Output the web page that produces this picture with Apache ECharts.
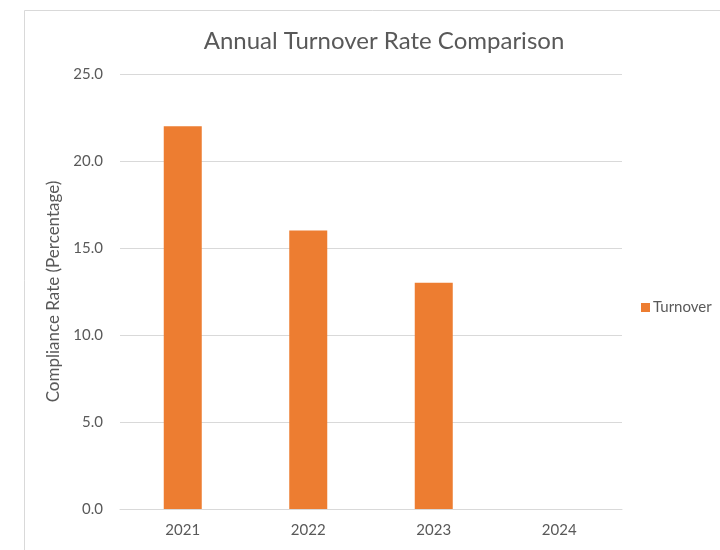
<!DOCTYPE html>
<html>
<head>
<meta charset="utf-8">
<style>
  html, body { margin: 0; padding: 0; background: #ffffff; }
  #chart { width: 720px; height: 550px; }
</style>
<script src="https://cdn.jsdelivr.net/npm/echarts@6/dist/echarts.min.js"></script>
</head>
<body>
<div id="chart"></div>
<script>
// Annual turnover figures by year
const years = ['2021', '2022', '2023', '2024'];
const turnover = [22, 16, 13, 0];
const seriesName = 'Turnover';

const textColor = '#595959';
const fontFamily = 'Lato, "Open Sans", sans-serif';

const chart = echarts.init(document.getElementById('chart'), null, { renderer: 'canvas' });

chart.setOption({
  backgroundColor: '#ffffff',
  animation: false,
  textStyle: { fontFamily: fontFamily, color: textColor },
  graphic: [{
    type: 'rect',
    left: 22, top: 8,
    shape: { width: 720, height: 560 },
    style: { fill: 'none', stroke: '#d9d9d9', lineWidth: 1 },
    silent: true
  }],
  title: {
    text: 'Annual Turnover Rate Comparison',
    left: 379, top: 24,
    textAlign: 'center',
    textStyle: { fontSize: 24, fontWeight: 'normal', color: textColor, fontFamily: fontFamily }
  },
  legend: {
    data: [seriesName],
    orient: 'vertical',
    left: 636, top: 295,
    itemWidth: 9, itemHeight: 9, itemGap: 4,
    icon: 'rect',
    textStyle: { fontSize: 15, color: textColor, fontFamily: fontFamily, padding: [0, 0, 0, -2] }
  },
  grid: { left: 120, right: 98, top: 74, bottom: 41 },
  xAxis: {
    type: 'category',
    data: years,
    axisLine: { show: true, lineStyle: { color: '#d9d9d9' } },
    axisTick: { show: false },
    axisLabel: { color: textColor, fontSize: 15, margin: 14, fontFamily: fontFamily }
  },
  yAxis: {
    type: 'value',
    min: 0, max: 25, interval: 5,
    name: 'Compliance Rate (Percentage)',
    nameLocation: 'middle',
    nameGap: 53,
    nameRotate: 90,
    nameTextStyle: { fontSize: 17, color: textColor, fontFamily: fontFamily },
    axisLine: { show: false },
    axisTick: { show: false },
    axisLabel: {
      color: textColor, fontSize: 15, margin: 17, fontFamily: fontFamily,
      formatter: v => v.toFixed(1)
    },
    splitLine: { lineStyle: { color: '#d9d9d9', width: 1 } }
  },
  series: [{
    name: seriesName,
    type: 'bar',
    data: turnover,
    barWidth: 38,
    itemStyle: { color: '#ED7D31' }
  }]
});
</script>
</body>
</html>
